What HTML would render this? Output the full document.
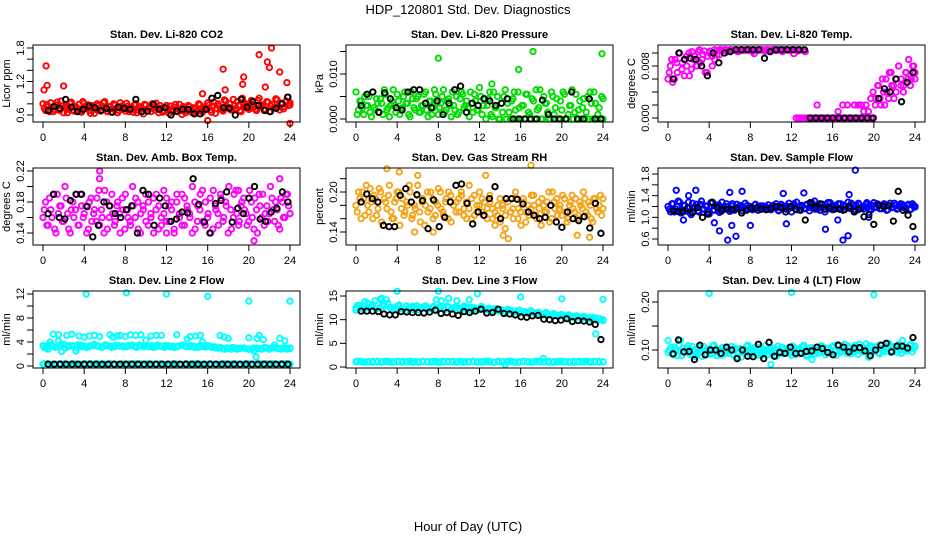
<!DOCTYPE html>
<html><head><meta charset="utf-8"><style>
body{margin:0;background:#fff}
svg{display:block;font-family:"Liberation Sans",sans-serif}
</style></head><body>
<svg id="c" width="936" height="540" viewBox="0 0 936 540">
<text x="468" y="14" text-anchor="middle" font-size="13">HDP_120801  Std. Dev. Diagnostics</text>
<text x="468" y="531" text-anchor="middle" font-size="13">Hour of Day (UTC)</text>
</svg>
<script>
// ---- data ----
const xTicks=[0,4,8,12,16,20,24];
const co2Main=[0.80,0.68,0.75,0.82,0.66,0.78,0.71,0.85,0.64,0.76,0.70,0.83,0.67,0.74,0.79,0.65,0.81,0.72,0.68,0.77,0.63,0.80,0.73,0.69,0.84,0.66,0.75,0.71,0.78,0.64,0.82,0.70,0.67,0.76,0.73,0.65,0.80,0.69,0.74,0.62,0.78,0.71,0.66,0.75,0.81,0.64,0.72,0.68,0.77,0.63,0.70,0.74,0.66,0.79,0.61,0.72,0.68,0.75,0.64,0.70,0.67,0.78,0.65,0.73,0.82,0.69,0.76,0.63,0.80,0.71,0.67,0.85,0.74,0.69,0.88,0.72,0.77,0.66,0.83,0.79,0.70,0.86,0.74,0.68,0.90,0.76,0.71,0.84,0.66,0.79,0.73,0.87,0.69,0.81,0.75,0.92,0.78];
const co2B=[0.72,0.79,0.66,0.74,0.70,0.83,0.68,0.76,0.73,0.64,0.81,0.69,0.75,0.71,0.66,0.84,0.72,0.78,0.63,0.74,0.70,0.77,0.67,0.82,0.71,0.75,0.65,0.80,0.72,0.68,0.76,0.73,0.81,0.66,0.70,0.78,0.64,0.75,0.71,0.79,0.67,0.74,0.80,0.69,0.72,0.77,0.65,0.73,0.70,0.76,0.66,0.79,0.71,0.68,0.75,0.64,0.77,0.70,0.73,0.66,0.80,0.68,0.74,0.71,0.78,0.65,0.83,0.72,0.76,0.69,0.87,0.73,0.80,0.71,0.77,0.84,0.68,0.90,0.75,0.72,0.81,0.79,0.70,0.86,0.74,0.78,0.69,0.83,0.76,0.72,0.89,0.75,0.80,0.71,0.85,0.77,0.82];
const co2OutT=[0.1,0.3,0.4,2,15.5,16,17.5,17.7,19.4,19.5,21,21.6,21.8,22,22.2,23,23.7,24];
const co2OutV=[1.05,1.48,1.13,1.12,0.98,0.5,1.42,1.05,1.15,1.28,1.68,1.1,1.55,1.45,1.8,1.37,1.18,0.45];
const co2Black=[0.68,0.75,0.72,0.88,0.74,0.66,0.70,0.76,0.73,0.68,0.72,0.65,0.74,0.72,0.70,0.88,0.66,0.67,0.79,0.70,0.73,0.60,0.67,0.70,0.70,0.62,0.62,0.70,0.90,0.95,0.73,0.72,0.60,0.88,0.74,0.84,0.77,0.68,0.66,0.72,0.80,0.92];
const presMain=[6,2,4,1,3,5,0.5,2.5,4.5,1.5,3.5,6.5,2,0.5,4,3,5.5,1,2.5,6,3.5,0.5,4.5,2,5,1.5,3,6,0.5,4,2.5,5.5,1,3.5,6.5,2,4.5,0.5,3,5,1.5,6,2.5,4,0.5,3.5,5.5,2,7,1,4.5,3,6,0.5,2.5,5,0,1.5,6.5,3.5,0,4.5,2,6,0,3,5.5,1.5,0,4,6.5,2.5,0,5,3.5,0,6,1,4.5,0,2,5.5,0,3,6.5,1.5,0,4,2.5,0,5,6,0,3.5,1,0,4.5];
const presB=[1,4,2.5,5,3,1.5,6,2,3.5,4.5,1,5.5,2.5,3,6.5,1.5,4,2,5,3.5,1,6,2.5,4.5,1.5,3,5.5,2,4,1,6.5,3.5,2.5,5,1.5,4,3,6,2,1,4.5,5.5,3,2.5,6,1.5,4,2,5,3,0,4.5,1,6,2.5,0,3.5,5,0,1.5,4,6,0,2.5,3,0,5.5,1,4.5,0,2,6.5,0,3.5,1.5,0,5,2.5,0,4,6,0,1,3,0,5.5,2,0,4.5,1.5,0,3.5,6,0,2.5,5,0];
const presOutT=[8,15.8,17.2,23.9,13.2];
const presOutV=[13.5,11,15,14.5,7.8];
const presBlack=[3,5.5,6,1.5,5.8,4.5,2.5,2,6,6.5,6.5,3.5,2.5,4,1,3.5,6.5,7.3,1.5,3.5,3,4.5,4,3,3.5,4.5,0,0,0,0,0,4.2,1,0,0,0,6,0,0,4.5,0,0];
const tempMain=[6,8,5.5,9,7,10,8.5,6.5,9.5,10,7.5,9,8,10.2,8.5,9.8,7,9.5,10.3,8,9,10.4,9.7,10.5,10.4,10.5,10.3,10.5,10.4,10.5,10.2,10.5,10.4,10.5,10.5,10.4,10.5,9.9,10.4,10.5,10.5,10.4,10.5,10.3,10.5,10.5,10.4,10.5,10.5,10.4,10.5,10.5,10.4,10.5,9.9,0,0,0,0,0,0,0,0,0,2,0,0,0,0,0,0,0,0,1,0,2,0,2,0,0,2,0,0,2,1,2,1,3,4,2,5,3,6,2,4,7,5,3,6,8,5,4,7,6,5,8,6];
const tempB=[7,9,6,8.5,10,7.5,9,8,6.5,10.2,9.5,8,10.5,9,10.3,7,10,9.5,10.5,9.8,10.5,10.4,10.5,10.2,10.5,10.4,10.5,10.5,10.3,10.5,10.4,10.5,10.5,10.2,10.5,10.4,10.5,10.5,10.3,10.5,10.4,10.5,10.5,10.4,10.5,10.2,10.5,10.5,10.4,10.5,10.5,10.3,10.5,10.4,10.2,0,0,0,0,0,0,0,0,0,0,0,0,0,0,0,0,0,0,0,0,2,2,0,0,0,0,0,3,5,2,4,6,3,7,5,4,8,6,5,7,9,6,8,7];
const tempBlack=[6,10,9,9.2,9,8,6.5,10,8.5,10,10.2,10.5,10.5,10.5,10.5,10.5,9.2,10.2,10.5,10.5,10.5,10.5,10.5,10.5,0,0,0,0,0,0,0,0,0,0,0,0,3,4.5,4,6,2.5,5.5,7];
const ambMain=[0.16,0.18,0.15,0.17,0.19,0.14,0.165,0.175,0.155,0.185,0.145,0.17,0.16,0.19,0.15,0.175,0.165,0.14,0.18,0.155,0.17,0.185,0.15,0.16,0.195,0.145,0.175,0.165,0.155,0.18,0.14,0.17,0.19,0.16,0.15,0.175,0.185,0.145,0.165,0.17,0.155,0.18,0.16,0.14,0.19,0.175,0.15,0.165,0.185,0.155,0.17,0.145,0.18,0.16,0.19,0.15,0.175,0.165,0.14,0.18,0.155,0.17,0.195,0.15,0.16,0.185,0.145,0.175,0.165,0.19,0.155,0.18,0.14,0.17,0.16,0.195,0.15,0.175,0.185,0.165,0.155,0.18,0.145,0.17,0.19,0.16,0.15,0.175,0.165,0.185,0.155,0.17,0.145,0.18,0.16,0.19,0.165];
const ambB=[0.17,0.15,0.185,0.16,0.145,0.19,0.175,0.155,0.2,0.165,0.14,0.18,0.17,0.15,0.19,0.16,0.175,0.145,0.185,0.165,0.155,0.195,0.17,0.14,0.18,0.16,0.19,0.15,0.175,0.165,0.185,0.145,0.17,0.155,0.2,0.16,0.18,0.14,0.175,0.19,0.15,0.165,0.185,0.17,0.145,0.16,0.195,0.155,0.175,0.18,0.14,0.19,0.165,0.15,0.185,0.17,0.16,0.2,0.145,0.175,0.19,0.155,0.18,0.165,0.14,0.195,0.17,0.15,0.185,0.16,0.175,0.2,0.145,0.19,0.165,0.155,0.18,0.17,0.15,0.195,0.16,0.185,0.14,0.175,0.19,0.165,0.155,0.2,0.17,0.18,0.15,0.185,0.16,0.19,0.175,0.165];
const ambOutT=[5.5,5.5,19,20.5,23,12];
const ambOutV=[0.22,0.21,0.195,0.13,0.21,0.14];
const ambBlack=[0.165,0.19,0.16,0.158,0.182,0.19,0.19,0.174,0.135,0.15,0.18,0.175,0.165,0.16,0.17,0.175,0.14,0.195,0.19,0.15,0.185,0.175,0.155,0.158,0.167,0.166,0.21,0.177,0.154,0.14,0.178,0.182,0.193,0.154,0.172,0.165,0.185,0.2,0.158,0.155,0.167,0.172,0.193,0.18];
const rhMain=[0.18,0.20,0.16,0.19,0.21,0.17,0.185,0.195,0.165,0.205,0.155,0.19,0.175,0.21,0.16,0.185,0.2,0.15,0.19,0.17,0.18,0.2,0.165,0.175,0.21,0.155,0.19,0.18,0.17,0.2,0.16,0.185,0.205,0.175,0.165,0.19,0.2,0.155,0.18,0.185,0.17,0.195,0.175,0.16,0.21,0.19,0.165,0.18,0.2,0.17,0.185,0.16,0.195,0.175,0.15,0.165,0.19,0.18,0.145,0.185,0.17,0.175,0.2,0.16,0.17,0.19,0.155,0.18,0.175,0.195,0.165,0.185,0.15,0.18,0.17,0.2,0.16,0.185,0.19,0.175,0.165,0.19,0.155,0.18,0.195,0.17,0.16,0.185,0.175,0.19,0.165,0.18,0.155,0.19,0.17,0.195,0.175];
const rhB=[0.17,0.19,0.2,0.165,0.18,0.205,0.16,0.19,0.175,0.2,0.15,0.185,0.195,0.17,0.16,0.19,0.2,0.175,0.165,0.185,0.21,0.16,0.18,0.195,0.17,0.185,0.15,0.2,0.175,0.19,0.165,0.18,0.2,0.17,0.185,0.16,0.195,0.18,0.17,0.19,0.2,0.165,0.185,0.175,0.16,0.195,0.17,0.18,0.19,0.165,0.175,0.185,0.16,0.17,0.18,0.155,0.175,0.165,0.185,0.17,0.16,0.19,0.175,0.15,0.185,0.17,0.165,0.195,0.18,0.16,0.175,0.19,0.17,0.185,0.155,0.2,0.175,0.165,0.18,0.195,0.17,0.16,0.185,0.175,0.19,0.165,0.18,0.2,0.17,0.185,0.16,0.19,0.175,0.18,0.165,0.19];
const rhOutT=[3,4.2,6,12.6,17,14.8,14.3,21.5,22.7,5.7,7.5];
const rhOutV=[0.235,0.23,0.225,0.225,0.24,0.13,0.135,0.135,0.132,0.14,0.14];
const rhBlack=[0.185,0.197,0.19,0.185,0.15,0.148,0.148,0.195,0.205,0.185,0.196,0.187,0.145,0.188,0.148,0.162,0.185,0.21,0.212,0.183,0.152,0.17,0.165,0.19,0.208,0.16,0.19,0.19,0.189,0.182,0.17,0.165,0.16,0.162,0.18,0.155,0.147,0.17,0.16,0.157,0.163,0.146,0.183,0.138];
const sfMain=[1.2,1.1,1.25,1.15,1.3,1.08,1.22,1.12,1.28,1.05,1.18,1.24,1.1,1.3,1.15,1.2,1.06,1.26,1.13,1.22,1.09,1.28,1.16,1.2,1.11,1.25,1.14,1.18,1.22,1.12,1.26,1.15,1.2,1.17,1.24,1.13,1.21,1.19,1.16,1.23,1.14,1.2,1.25,1.12,1.22,1.18,1.15,1.26,1.1,1.21,1.28,1.14,1.2,1.17,1.24,1.12,1.22,1.3,1.15,1.18,1.24,1.1,1.2,1.27,1.14,1.21,1.17,1.25,1.13,1.2,1.28,1.16,1.22,1.12,1.26,1.18,1.15,1.24,1.2,1.14,1.27,1.19,1.22,1.16,1.25,1.13,1.21,1.18,1.26,1.15,1.2,1.24,1.17,1.22,1.14,1.25,1.2];
const sfB=[1.15,1.25,1.1,1.2,1.28,1.13,1.22,1.17,1.08,1.26,1.19,1.12,1.24,1.16,1.21,1.1,1.27,1.14,1.2,1.23,1.11,1.18,1.25,1.15,1.21,1.13,1.24,1.17,1.2,1.15,1.22,1.18,1.14,1.23,1.19,1.16,1.21,1.2,1.15,1.18,1.22,1.17,1.13,1.24,1.19,1.21,1.16,1.2,1.25,1.14,1.19,1.22,1.16,1.23,1.18,1.26,1.15,1.21,1.13,1.24,1.19,1.27,1.16,1.22,1.18,1.25,1.15,1.23,1.2,1.17,1.26,1.14,1.21,1.24,1.17,1.2,1.27,1.15,1.22,1.18,1.25,1.16,1.23,1.2,1.14,1.26,1.19,1.22,1.16,1.25,1.21,1.18,1.24,1.15,1.22,1.19];
const sfOutT=[0.8,2.7,1.5,2,4.5,5,5.8,6.2,6.6,7.2,6,8,11.5,11.2,13.2,15.3,17,17.5,17.6,18.2,19.5,24,16.5];
const sfOutV=[1.5,1.5,0.95,1.4,0.9,0.75,0.58,0.85,0.65,1.48,1.46,0.85,0.88,1.44,1.45,0.78,0.58,0.66,1.42,1.87,1.0,0.6,0.95];
const sfBlack=[1.12,1.11,1.1,1.17,1.09,1.18,1.0,1.06,1.28,1.18,1.13,1.15,1.14,1.16,1.08,1.13,1.17,1.17,1.15,1.14,1.16,1.2,1.18,1.1,1.2,1.15,1.13,0.95,1.27,1.18,1.25,1.15,1.17,1.15,1.15,1.14,1.2,1.1,1.15,1.01,1.05,0.87,1.22,1.2,1.22,0.93,1.48,1.13,1.04,0.83];
const l2Main=[3.4,3.2,3.5,3.1,3.3,3.6,3.2,3.4,3.0,3.5,3.3,3.2,3.4,3.3,3.1,3.5,3.3,3.2,3.4,3.3,3.2,3.4,3.3,3.5,3.2,3.3,3.4,3.2,3.3,3.1,3.4,3.3,3.2,3.4,3.3,3.2,3.3,3.1,3.4,3.2,3.3,3.2,3.0,2.9,3.0,2.8,3.0,2.9,3.0,2.8,2.9,3.0,2.9,3.1,2.8,3.0,2.9,2.8,3.0,2.9];
const l2B=[3.1,3.5,3.3,3.2,3.6,3.0,3.4,3.3,3.5,3.2,3.1,3.4,3.6,3.3,3.2,3.4,3.1,3.5,3.3,3.2,3.4,3.5,3.1,3.3,3.4,3.2,3.1,3.5,3.3,3.4,3.2,3.1,3.3,3.5,3.2,3.4,3.1,3.3,3.2,3.4,3.1,3.0,3.1,2.8,2.9,3.1,2.8,3.0,2.9,2.8,3.0,2.9,2.8,3.0,2.9,3.1,2.9,3.0,2.8,3.0];
const l2Low=[0.3,0.4,0.2,0.3,0.4,0.3,0.2,0.4,0.3,0.3,0.4,0.2,0.3,0.4,0.3,0.2,0.4,0.3,0.3,0.4,0.2,0.3,0.4,0.3,0.2,0.4,0.3,0.3,0.4,0.2,0.3,0.4,0.3,0.2,0.4,0.3,0.3,0.4,0.2,0.3,0.4,0.3,0.2,0.4,0.3,0.3,0.4,0.2,0.3,0.4,0.3,0.2,0.4,0.3,0.3,0.4,0.2,0.3,0.4,0.3];
const l2Low2=[0.4,0.3,0.3,0.2,0.4,0.3,0.4,0.2,0.3,0.4,0.3,0.2,0.3,0.4,0.3,0.3,0.2,0.4,0.3,0.4,0.3,0.2,0.3,0.4,0.3,0.3,0.4,0.2,0.3,0.3,0.4,0.3,0.2,0.4,0.3,0.3,0.4,0.3,0.2,0.3,0.4,0.3,0.3,0.2,0.4,0.3,0.3,0.4,0.2,0.3];
const l2OutT=[0.5,0.7,1,1.5,1.5,1.8,2.3,2.8,3.2,3.5,4,4.2,4.5,5,5.5,6.5,6.8,7.2,7.5,8,8.1,8.5,9,9.5,10,10.5,11,11.5,12,13,14,14.3,14.8,15.3,15.5,16,17.2,17.6,18,20,20,20.5,20.7,20.8,21,21.4,22.5,23,23.5,24,0.3,6];
const l2OutV=[2.8,4,5.3,5.2,4.2,2.4,5.1,5.3,2.5,5,4.8,12,5,5.1,4.9,5.2,4.8,5,5.1,4.9,12.2,5.2,5.1,5.2,4.3,5,5.1,5.1,12,5.2,4.5,4.9,5,5.1,4,11.6,5.1,4.8,4.6,10.8,4.7,2.5,1.5,4.6,5.1,4.4,3.5,4.6,4.2,10.8,3,3.5];
const l2Black=[0.3,0.3,0.3,0.3,0.3,0.3,0.3,0.3,0.3,0.3,0.3,0.3,0.3,0.3,0.3,0.3,0.3,0.3,0.3,0.3,0.3,0.3,0.3,0.3,0.3,0.3,0.3,0.3,0.3,0.3,0.3,0.3,0.3,0.3,0.3,0.3,0.3,0.3,0.3,0.3,0.3];
const l3Main=[12.5,13,12.2,13.5,12.8,14,12.4,13.2,14.2,12.6,12.1,12.9,12.3,11.8,12.6,12.1,12.9,12.4,12.8,12.2,12.5,12.0,12.7,12.3,12.9,12.1,12.6,12.4,12.2,12.7,12.0,12.5,12.3,12.8,12.1,12.4,11.9,12.3,12.0,11.8,12.2,11.9,11.6,12.0,11.7,11.5,11.9,11.4,11.6,11.2,11.5,11.0,11.3,10.9,11.1,10.8,11.0,10.6,10.8,10.5,10.7,10.3,10.5,10.4,10.2,10.0];
const l3B=[13,12.4,13.8,12.6,13.2,12.2,14.3,12.8,13.5,12.3,12.7,13.1,12.2,12.9,12.4,12.7,12.1,12.6,12.9,12.3,12.8,12.2,12.5,12.1,12.6,12.4,12.8,12.2,12.5,12.0,12.6,12.3,12.1,12.5,12.2,12.0,12.3,11.8,12.1,11.7,11.9,11.6,11.8,11.4,11.7,11.3,11.5,11.2,11.4,11.0,11.2,10.9,11.0,10.7,10.9,10.5,10.7,10.4,10.6,10.2,10.4,10.1,10.3,9.9,10.1,9.8];
const l3Low=[1.1,1.2,1.0,1.1,1.2,1.1,1.0,1.2,1.1,1.1,1.2,1.0,1.1,1.2,1.1,1.0,1.2,1.1,1.1,1.2,1.0,1.1,1.2,1.1,1.0,1.2,1.1,1.1,1.2,1.0,1.1,1.2,1.1,1.0,1.2,1.1,1.1,1.2,1.0,1.1,1.2,1.1,1.0,1.2,1.1,1.1,1.2,1.0,1.1,1.2,1.1,1.0,1.2,1.1,1.1,1.2,1.0,1.1,1.2,1.1];
const l3Low2=[1.2,1.1,1.1,1.0,1.2,1.1,1.2,1.0,1.1,1.2,1.1,1.0,1.1,1.2,1.1,1.1,1.0,1.2,1.1,1.2,1.1,1.0,1.1,1.2,1.1,1.1,1.2,1.0,1.1,1.1,1.2,1.1,1.0,1.2,1.1,1.1,1.2,1.1,1.0,1.1,1.2,1.1,1.1,1.0,1.2,1.1,1.1,1.2,1.0,1.1];
const l3OutT=[0,4,8,11.8,16,20,24,23.3,2.5,7.8,8.3,9,9.8,11,14.5,18.2,2.7,5.5,10.5];
const l3OutV=[12,16,16,15.5,14.8,14.4,14.3,7,14.5,14.2,14,14.5,14,14.2,0.5,1.8,13.2,12.8,12.9];
const l3Black=[11.8,11.8,11.8,11.7,11.2,11.0,11.0,11.7,11.6,11.5,11.5,11.4,11.6,12.0,11.3,11.5,11.2,10.9,11.7,11.5,11.8,12.2,11.4,11.5,12.2,11.3,11.2,11.0,10.6,10.5,10.8,10.9,10.1,10.0,9.8,9.9,10.2,9.6,9.8,9.7,9.5,9.0,5.8];
const l4Main=[0.095,0.105,0.09,0.1,0.11,0.088,0.098,0.104,0.092,0.107,0.086,0.1,0.096,0.108,0.09,0.102,0.094,0.11,0.088,0.1,0.105,0.092,0.098,0.107,0.09,0.103,0.096,0.085,0.1,0.108,0.093,0.099,0.105,0.089,0.101,0.097,0.109,0.091,0.1,0.104,0.087,0.098,0.106,0.093,0.1,0.095,0.108,0.09,0.102,0.096,0.11,0.088,0.099,0.105,0.092,0.1,0.097,0.107,0.09,0.103,0.095,0.109,0.089,0.101,0.098,0.112,0.093,0.104,0.097,0.11,0.091,0.102,0.099,0.113,0.094,0.106,0.1,0.108,0.092,0.103,0.097,0.111,0.095,0.105,0.1,0.112,0.093,0.104,0.098,0.11,0.096,0.107];
const l4B=[0.1,0.092,0.106,0.088,0.098,0.103,0.095,0.109,0.09,0.1,0.094,0.105,0.087,0.099,0.102,0.091,0.108,0.096,0.1,0.089,0.104,0.097,0.093,0.107,0.1,0.086,0.103,0.095,0.098,0.11,0.09,0.101,0.094,0.106,0.088,0.1,0.097,0.104,0.092,0.099,0.108,0.093,0.101,0.096,0.105,0.089,0.102,0.098,0.094,0.107,0.1,0.09,0.104,0.096,0.101,0.093,0.109,0.097,0.102,0.094,0.106,0.099,0.111,0.095,0.103,0.1,0.108,0.092,0.105,0.098,0.112,0.096,0.104,0.101,0.109,0.097,0.106,0.094,0.11,0.1,0.103,0.113,0.098,0.107,0.095,0.111,0.101,0.105,0.099,0.112,0.103,0.108];
const l4OutT=[4,12,20,0,1.2,14,10,19.5,22.8];
const l4OutV=[0.218,0.22,0.215,0.12,0.12,0.08,0.07,0.085,0.12];
const l4Black=[0.092,0.121,0.096,0.097,0.08,0.11,0.09,0.1,0.1,0.093,0.106,0.1,0.082,0.1,0.087,0.086,0.112,0.082,0.116,0.087,0.095,0.093,0.106,0.093,0.093,0.097,0.098,0.106,0.103,0.095,0.09,0.11,0.106,0.096,0.104,0.105,0.098,0.088,0.1,0.11,0.114,0.096,0.108,0.108,0.104,0.126];

// ---- layout ----
const colL=[33,346,658], rowT=[45,168,291], W=267, H=77;
const panels=[
 {name:'co2',title:'Stan. Dev. Li-820 CO2',yl:'Licor ppm',c:0,r:0,col:'#ff0000',a:[0.6,115,1.8,48],ticks:[0.6,0.8,1.0,1.2,1.4,1.6,1.8],labs:[[0.6,'0.6'],[1.2,'1.2'],[1.8,'1.8']],mains:[co2Main,co2B],ot:co2OutT,ov:co2OutV,blk:co2Black},
 {name:'pressure',title:'Stan. Dev. Li-820 Pressure',yl:'kPa',c:1,r:0,col:'#00dd00',a:[0,119,10,74],ticks:[0,5,10,15],labs:[[0,'0.000'],[10,'0.010']],mains:[presMain,presB],ot:presOutT,ov:presOutV,blk:presBlack},
 {name:'temp',title:'Stan. Dev. Li-820 Temp.',yl:'degrees C',c:2,r:0,col:'#ff00ff',a:[0,118,8,66],ticks:[0,2,4,6,8,10],labs:[[0,'0.000'],[8,'0.008']],mains:[tempMain,tempB],ot:[],ov:[],blk:tempBlack},
 {name:'amb-box-temp',title:'Stan. Dev. Amb. Box Temp.',yl:'degrees C',c:0,r:1,col:'#ff00ff',a:[0.14,233,0.22,171],ticks:[0.14,0.16,0.18,0.20,0.22],labs:[[0.14,'0.14'],[0.18,'0.18'],[0.22,'0.22']],mains:[ambMain,ambB],ot:ambOutT,ov:ambOutV,blk:ambBlack},
 {name:'gas-rh',title:'Stan. Dev. Gas Stream RH',yl:'percent',c:1,r:1,col:'#f4a41a',a:[0.14,232,0.20,192],ticks:[0.14,0.16,0.18,0.20,0.22],labs:[[0.14,'0.14'],[0.20,'0.20']],mains:[rhMain,rhB],ot:rhOutT,ov:rhOutV,blk:rhBlack},
 {name:'sample-flow',title:'Stan. Dev. Sample Flow',yl:'ml/min',c:2,r:1,col:'#0000ff',a:[0.6,239,1.8,174],ticks:[0.6,0.8,1.0,1.2,1.4,1.6,1.8],labs:[[0.6,'0.6'],[1.0,'1.0'],[1.4,'1.4'],[1.8,'1.8']],mains:[sfMain,sfB],ot:sfOutT,ov:sfOutV,blk:sfBlack},
 {name:'line2-flow',title:'Stan. Dev. Line 2 Flow',yl:'ml/min',c:0,r:2,col:'#00ffff',a:[0,366,12,294],ticks:[0,2,4,6,8,10,12],labs:[[0,'0'],[4,'4'],[8,'8'],[12,'12']],mains:[l2Main,l2B,l2Low,l2Low2],ot:l2OutT,ov:l2OutV,blk:l2Black},
 {name:'line3-flow',title:'Stan. Dev. Line 3 Flow',yl:'ml/min',c:1,r:2,col:'#00ffff',a:[0,367,15,296],ticks:[0,5,10,15],labs:[[0,'0'],[5,'5'],[10,'10'],[15,'15']],mains:[l3Main,l3B,l3Low,l3Low2],ot:l3OutT,ov:l3OutV,blk:l3Black},
 {name:'line4-flow',title:'Stan. Dev. Line 4 (LT) Flow',yl:'ml/min',c:2,r:2,col:'#00ffff',a:[0.10,350,0.20,302],ticks:[0.10,0.15,0.20],labs:[[0.10,'0.10'],[0.20,'0.20']],mains:[l4Main,l4B],ot:l4OutT,ov:l4OutV,blk:l4Black}
];
const svg=document.getElementById('c');
const NS='http://www.w3.org/2000/svg';
function mk(tag,attrs,parent){const e=document.createElementNS(NS,tag);for(const k in attrs)e.setAttribute(k,attrs[k]);parent.appendChild(e);return e;}
panels.forEach(p=>{
  const L=colL[p.c],T=rowT[p.r],R=L+W,B=T+H;
  const g=mk('g',{},svg);
  
  
  const xs=t=>L+10+t/24*(W-20);
  const ys=v=>p.a[1]+(v-p.a[0])*(p.a[3]-p.a[1])/(p.a[2]-p.a[0]);
  const t1=mk('text',{x:(L+R)/2,y:T-7,'text-anchor':'middle','font-size':11,'font-weight':'bold'},g);
  t1.textContent=p.title;
  
  
  const yl=mk('text',{x:0,y:0,'text-anchor':'middle','font-size':11,transform:`translate(${L-23},${(T+B)/2}) rotate(-90)`},g);
  yl.textContent=p.yl;
  
  
  const pg=mk('g',{fill:'none','stroke-width':1.9},g);
  
  
  p.mains.forEach((arr,k)=>{const off=(k%2)*0.12;arr.forEach((v,i)=>{const t=Math.min(24,off+i*24/(arr.length-1));
    const c=mk('circle',{cx:xs(t),cy:ys(v),r:2.7,stroke:p.col},pg);
    
    });});
  p.ot.forEach((t,i)=>{const c=mk('circle',{cx:xs(t),cy:ys(p.ov[i]),r:2.7,stroke:p.col},pg);
    
    });
  p.blk.forEach((v,i)=>{const t=0.5+i*23.3/(p.blk.length-1);
    const c=mk('circle',{cx:xs(t),cy:ys(v),r:2.7,stroke:'#000'},pg);
    
    });
  const bx=mk('rect',{x:L,y:T,width:W,height:H,fill:'none',stroke:'#000','stroke-width':1},g);
  
  
  mk('line',{x1:xs(0),x2:xs(24),y1:B,y2:B,stroke:'#000'},g);
  xTicks.forEach(t=>{mk('line',{x1:xs(t),x2:xs(t),y1:B,y2:B+6,stroke:'#000'},g);
    const tx=mk('text',{x:xs(t),y:B+19,'text-anchor':'middle','font-size':11},g);tx.textContent=t;
    
    });
  mk('line',{x1:L,x2:L,y1:ys(p.ticks[0]),y2:ys(p.ticks[p.ticks.length-1]),stroke:'#000'},g);
  p.ticks.forEach(v=>mk('line',{x1:L-6,x2:L,y1:ys(v),y2:ys(v),stroke:'#000'},g));
  p.labs.forEach(([v,s])=>{const tx=mk('text',{x:0,y:0,'text-anchor':'middle','font-size':11,transform:`translate(${L-9},${ys(v)}) rotate(-90)`},g);tx.textContent=s;
    
    });
});
</script>
</body></html>
